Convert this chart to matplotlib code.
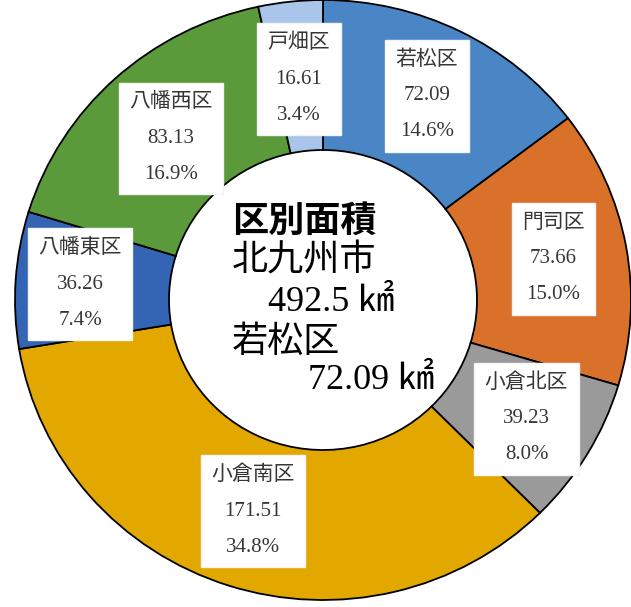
import numpy as np
import matplotlib
matplotlib.use("Agg")
import matplotlib.pyplot as plt

plt.rcParams['font.family'] = ['Liberation Serif', 'Noto Sans CJK JP']

# district areas (km2), clockwise from the top
wards = ['若松区', '門司区', '小倉北区', '小倉南区', '八幡東区', '八幡西区', '戸畑区']
areas = [72.09, 73.66, 39.23, 171.51, 36.26, 83.13, 16.61]
shares = ['14.6%', '15.0%', '8.0%', '34.8%', '7.4%', '16.9%', '3.4%']
colors = ['#4a86c6', '#d9712b', '#9a9a9a', '#e3a800', '#3464b4', '#5a9a3a', '#a9c5ea']
label_r = [0.76, 0.76, 0.77, 0.74, 0.79, 0.73, 0.74]

total_text = '492.5'
focus = '若松区'
focus_text = '72.09'

fig = plt.figure(figsize=(6.31, 6.07), dpi=100)
ax = fig.add_axes([0, 0, 1, 1])

wedges, _ = ax.pie(areas, colors=colors, startangle=90, counterclock=False,
                   radius=1.0, wedgeprops=dict(width=0.5, edgecolor='black', linewidth=1.3))

# the original donut is a little wider than tall
ax.set_aspect('auto')
ax.set_xlim(-323 / 308, (631 - 323) / 308)
ax.set_ylim(-307 / 300, 300 / 300)
ax.axis('off')

for w, name, a, s, r in zip(wedges, wards, areas, shares, label_r):
    mid = np.deg2rad((w.theta1 + w.theta2) / 2)
    ax.text(r * np.cos(mid), r * np.sin(mid), f'{name}\n{a:.2f}\n{s}',
            ha='center', va='center', fontsize=15, color='#363636', linespacing=2.2,
            bbox=dict(boxstyle='square,pad=0.5', facecolor='white', edgecolor='#f4f4f4'))

ax.text(-0.295, 0.257, '区別面積', fontsize=26, fontweight='bold', ha='left', va='center')
ax.text(-0.295, 0.127, '北九州市', fontsize=26, ha='left', va='center')
ax.text(-0.179, -0.007, f'{total_text} ㎢', fontsize=26, ha='left', va='center')
ax.text(-0.295, -0.143, focus, fontsize=26, ha='left', va='center')
ax.text(-0.049, -0.267, f'{focus_text} ㎢', fontsize=26, ha='left', va='center')

fig.savefig('out.png', dpi=100)
